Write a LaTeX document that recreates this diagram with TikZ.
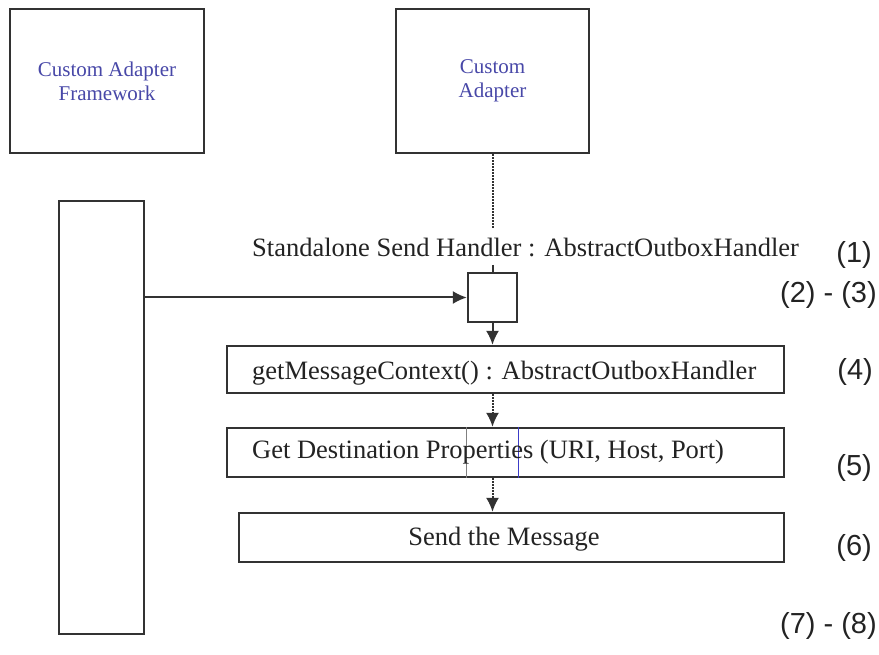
\documentclass[tikz,border=0pt]{standalone}
\usepackage{fontspec}
\setmainfont{Liberation Serif}
\newfontfamily\numfont{Liberation Sans}
\usetikzlibrary{arrows.meta}
\definecolor{linec}{RGB}{50,50,50}
\definecolor{bluetxt}{RGB}{72,72,168}
\definecolor{txt}{RGB}{35,35,35}
\definecolor{thinblue}{RGB}{60,60,200}
\begin{document}
\begin{tikzpicture}[x=1pt,y=-1pt,
  box/.style={draw=linec,line width=2.3pt,fill=white,inner sep=0pt},
  conn/.style={draw=linec,line width=2pt},
  arr/.style={conn,-{Latex[length=14pt,width=13pt]}},
  dotline/.style={conn,dash pattern=on 1.6pt off 1.4pt},
  maintxt/.style={font=\fontsize{26.5}{30}\selectfont,text=txt,inner sep=0pt},
  bluelbl/.style={font=\fontsize{21}{24}\selectfont,text=bluetxt,align=center},
  num/.style={font=\numfont\fontsize{29}{32}\selectfont,text=txt,inner sep=0pt,anchor=base east}]
\fill[white] (0,0) rectangle (879,655);
\useasboundingbox (0,0) rectangle (879,655);

% top boxes
\node[box,bluelbl,minimum width=194pt,minimum height=144pt] (caf) at (107,81) {Custom Adapter\\Framework};
\node[box,bluelbl,minimum width=193pt,minimum height=144pt] (ca) at (492.5,81) {Custom\\Adapter};

% lifeline / activation boxes
\node[box,minimum width=85pt,minimum height=433pt] (life) at (101.5,417.5) {};
\node[box,minimum width=49pt,minimum height=49pt] (act) at (492.5,297.5) {};

% step boxes
\node[box,minimum width=557pt,minimum height=47pt] (gm) at (505.5,369.5) {};
\node[box,minimum width=557pt,minimum height=49pt] (gd) at (505.5,452.5) {};
\node[box,minimum width=545pt,minimum height=49pt] (sm) at (511.5,537.5) {};

% thin activation lines seen through the destination box
\draw[gray,line width=1pt] (gd.north -| act.west) -- (gd.south -| act.west);
\draw[thinblue,line width=1pt] (gd.north -| act.east) -- (gd.south -| act.east);

% texts
\node[maintxt,anchor=base west] (hdl) at (252,257) {Standalone Send Handler : AbstractOutboxHandler};
\node[maintxt,anchor=base west] (gmt) at (252,380) {getMessageContext() : AbstractOutboxHandler};
\node[maintxt,anchor=base west] (gdt) at (252,458) {Get Destination Properties (URI, Host, Port)};
\node[maintxt,anchor=base] (smt) at (504,545) {Send the Message};

% connectors
\coordinate (lnend) at (492.5,228);
\coordinate (tickstart) at (492.5,265);
\draw[dotline] (ca.south) -- (lnend);
\draw[conn] (tickstart) -- (act.north);
\draw[arr] (life.east |- act.west) -- (act.west);
\draw[arr] (act.south) -- (act.south |- gm.north);
\draw[arr,dash pattern=on 1.6pt off 1.4pt] (act.south |- gm.south) -- (act.south |- gd.north);
\draw[arr,dash pattern=on 1.6pt off 1.4pt] (act.south |- gd.south) -- (act.south |- sm.north);

% step numbers
\node[num] (n1) at (872,263) {(1)};
\node[num] (n23) at (877,303) {(2) - (3)};
\node[num] (n4) at (873,379) {(4)};
\node[num] (n5) at (872,475) {(5)};
\node[num] (n6) at (872,555) {(6)};
\node[num] (n78) at (877,633) {(7) - (8)};
\end{tikzpicture}
\end{document}
